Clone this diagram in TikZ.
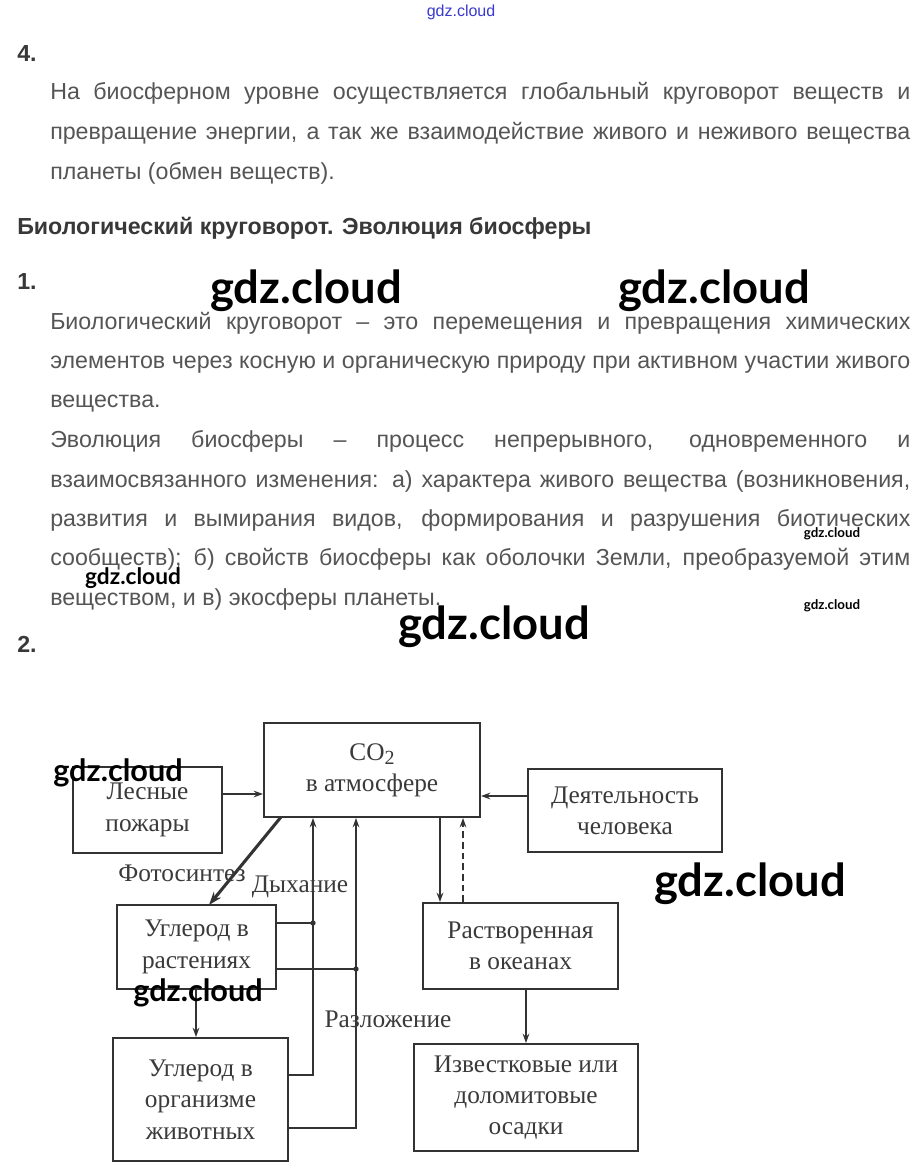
\documentclass[tikz,border=0pt]{standalone}
\usepackage{fontspec}
\setmainfont{Liberation Sans}
\newfontfamily\diagfont{Liberation Serif}
\newfontfamily\wmfont{Lato}
\usetikzlibrary{arrows.meta}
\definecolor{bodytext}{HTML}{555555}
\definecolor{titletext}{HTML}{383838}
\definecolor{diagline}{HTML}{333333}
\definecolor{diagtext}{HTML}{3A3A3A}
\definecolor{wmblue}{HTML}{3A3AD0}
\tikzset{
  bodyline/.style={anchor=base west, inner sep=0pt, text=bodytext, font=\fontsize{17.4}{20}\selectfont},
  numline/.style={anchor=base west, inner sep=0pt, text=titletext, font=\fontsize{17.4}{20}\selectfont\bfseries},
  wmbig/.style={inner sep=0pt, font=\wmfont\bfseries\fontsize{34}{36}\selectfont},
  wmmid/.style={inner sep=0pt, font=\wmfont\bfseries\fontsize{23}{25}\selectfont},
  wmsml/.style={inner sep=0pt, font=\wmfont\bfseries\fontsize{17}{19}\selectfont},
  wmtiny/.style={inner sep=0pt, font=\wmfont\bfseries\fontsize{10}{12}\selectfont},
  boxnode/.style={draw=diagline, line width=1.5pt, inner sep=0pt, align=center, text=diagtext,
    font=\diagfont\fontsize{19}{23.5}\selectfont},
  lbl/.style={inner sep=0pt, text=diagtext, font=\diagfont\fontsize{19}{23.5}\selectfont},
  conn/.style={draw=diagline, line width=1.5pt, -{Stealth[length=7pt,width=5pt]}},
  plain/.style={draw=diagline, line width=1.5pt},
  dotj/.style={circle, fill=diagline, inner sep=0pt, minimum size=4pt}
}
\begin{document}
\begin{tikzpicture}[x=0.75pt,y=-0.75pt]
\useasboundingbox[fill=white] (0,0) rectangle (922,1173);
% top watermark
\node[inner sep=0pt, text=wmblue, font=\fontsize{12}{14}\selectfont] (wtop) at (461,12) {gdz.cloud};
% numbers and text
\node[numline] (n4) at (17,62) {4.};
\node[bodyline] (a1) at (50,100) {\makebox[645pt][s]{На биосферном уровне осуществляется глобальный круговорот веществ и}};
\node[bodyline] (a2) at (50,140) {\makebox[645pt][s]{превращение энергии, а так же взаимодействие живого и неживого вещества}};
\node[bodyline] (a3) at (50,180) {планеты (обмен веществ).};
\node[numline] (title) at (17,234) {Биологический круговорот. Эволюция биосферы};
\node[numline] (n1) at (17,289) {1.};
\node[bodyline] (b1) at (50,329) {\makebox[645pt][s]{Биологический круговорот – это перемещения и превращения химических}};
\node[bodyline] (b2) at (50,368) {\makebox[645pt][s]{элементов через косную и органическую природу при активном участии живого}};
\node[bodyline] (b3) at (50,407) {вещества.};
\node[bodyline] (b4) at (50,447) {\makebox[645pt][s]{Эволюция биосферы – процесс непрерывного, одновременного и}};
\node[bodyline] (b5) at (50,487) {\makebox[645pt][s]{взаимосвязанного изменения: а) характера живого вещества (возникновения,}};
\node[bodyline] (b6) at (50,526) {\makebox[645pt][s]{развития и вымирания видов, формирования и разрушения биотических}};
\node[bodyline] (b7) at (50,565) {\makebox[645pt][s]{сообществ); б) свойств биосферы как оболочки Земли, преобразуемой этим}};
\node[bodyline] (b8) at (50,605) {веществом, и в) экосферы планеты.};
\node[numline] (n2) at (17,652) {2.};
% diagram boxes
\node[boxnode, minimum width=216*0.75pt, minimum height=94*0.75pt] (co2) at (372,770) {CO\raisebox{-0.35ex}{\fontsize{15}{15}\selectfont 2}\\в атмосфере};
\node[boxnode, minimum width=149*0.75pt, minimum height=86*0.75pt] (fire) at (147.5,810) {Лесные\\пожары};
\node[boxnode, minimum width=194*0.75pt, minimum height=83*0.75pt] (human) at (625,810.5) {Деятельность\\человека};
\node[boxnode, minimum width=159*0.75pt, minimum height=84*0.75pt] (plants) at (196.5,947) {Углерод в\\растениях};
\node[boxnode, minimum width=195*0.75pt, minimum height=86*0.75pt] (ocean) at (520.5,946) {Растворенная\\в океанах};
\node[boxnode, minimum width=175*0.75pt, minimum height=123*0.75pt] (animals) at (200.5,1099.5) {Углерод в\\организме\\животных};
\node[boxnode, minimum width=224*0.75pt, minimum height=107*0.75pt] (sed) at (526,1097.5) {Известковые или\\доломитовые\\осадки};
% helper coordinates
\coordinate (yfire) at (0,794);
\coordinate (yhum) at (0,796);
\coordinate (xresp) at (313,0);
\coordinate (xdec) at (356,0);
\coordinate (yresp1) at (0,923);
\coordinate (ydec1) at (0,969);
\coordinate (yresp2) at (0,1075);
\coordinate (ydec2) at (0,1128);
\coordinate (xdown) at (440,0);
\coordinate (xup) at (463,0);
\coordinate (xpa) at (196,0);
\coordinate (xos) at (526,0);
\coordinate (ps1) at (281,817);
\coordinate (ps2) at (209,905);
% connectors
\draw[conn] (fire.east |- yfire) -- (co2.west |- yfire);
\draw[conn] (human.west |- yhum) -- (co2.east |- yhum);
\draw[draw=diagline, line width=2.3pt, -{Stealth[length=10pt,width=7pt]}] (ps1) -- (ps2);
\draw[conn] (animals.east |- yresp2) -- (xresp |- yresp2) -- (xresp |- co2.south);
\draw[plain] (plants.east |- yresp1) -- (xresp |- yresp1) node[dotj] (dr) {};
\draw[conn] (animals.east |- ydec2) -- (xdec |- ydec2) -- (xdec |- co2.south);
\draw[plain] (plants.east |- ydec1) -- (xdec |- ydec1) node[dotj] (dd) {};
\draw[conn] (xdown |- co2.south) -- (xdown |- ocean.north);
\draw[conn, dash pattern=on 5pt off 3pt] (xup |- ocean.north) -- (xup |- co2.south);
\draw[conn] (xpa |- plants.south) -- (xpa |- animals.north);
\draw[conn] (xos |- ocean.south) -- (xos |- sed.north);
% labels
\node[lbl] (lph) at (182,873) {Фотосинтез};
\node[lbl] (lre) at (300,887) {Дыхание};
\node[lbl] (lde) at (388,1019) {Разложение};
% watermarks
\node[wmbig] (w1) at (306,291) {gdz.cloud};
\node[wmbig] (w2) at (714,291) {gdz.cloud};
\node[wmtiny] (w3) at (832,534) {gdz.cloud};
\node[wmsml] (w4) at (133,578) {gdz.cloud};
\node[wmtiny] (w5) at (832,606) {gdz.cloud};
\node[wmbig] (w6) at (494,627) {gdz.cloud};
\node[wmmid] (w7) at (118,773) {gdz.cloud};
\node[wmbig] (w8) at (750,884) {gdz.cloud};
\node[wmmid] (w9) at (198,993) {gdz.cloud};
\end{tikzpicture}
\end{document}
